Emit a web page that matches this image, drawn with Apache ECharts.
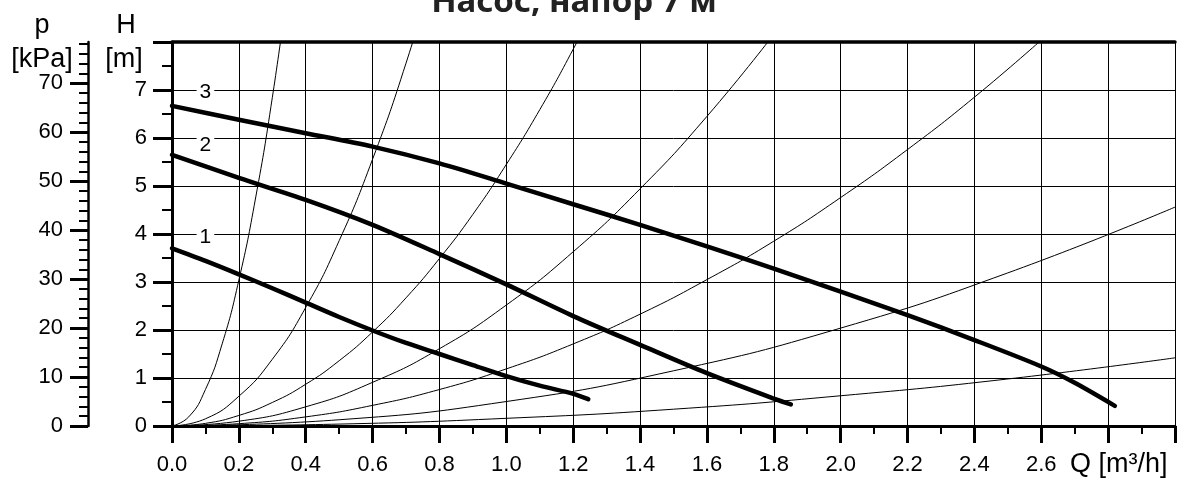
<!DOCTYPE html>
<html>
<head>
<meta charset="utf-8">
<title>Насос, напор 7 м</title>
<script src="https://cdn.jsdelivr.net/npm/echarts@6/dist/echarts.min.js"></script>
<style>
  html, body { margin: 0; padding: 0; background: #fff; }
  #chart { width: 1178px; height: 482px; }
</style>
</head>
<body>
<div id="chart"></div>
<script>
// pump curves, Q [m³/h] -> H [m]
const pump1Q = [0, 0.1, 0.2, 0.3, 0.4, 0.5, 0.6, 0.7, 0.8, 0.9, 1.0, 1.1, 1.2, 1.245];
const pump1H = [3.70, 3.44, 3.16, 2.87, 2.57, 2.27, 1.99, 1.73, 1.50, 1.27, 1.04, 0.84, 0.67, 0.56];
const pump2Q = [0, 0.2, 0.4, 0.6, 0.8, 1.0, 1.2, 1.4, 1.6, 1.8, 1.851];
const pump2H = [5.65, 5.17, 4.71, 4.19, 3.58, 2.95, 2.29, 1.69, 1.10, 0.57, 0.45];
const pump3Q = [0, 0.2, 0.4, 0.6, 0.8, 1.0, 1.2, 1.4, 1.6, 1.8, 2.0, 2.2, 2.4, 2.6, 2.7, 2.82];
const pump3H = [6.67, 6.38, 6.10, 5.82, 5.47, 5.05, 4.62, 4.19, 3.74, 3.28, 2.80, 2.31, 1.79, 1.24, 0.90, 0.42];

// system curves (thin lines), run past the top edge and get clipped there
const sysAQ = [0, 0.05, 0.1, 0.15, 0.2, 0.25, 0.3, 0.35];
const sysAH = [0, 0.19, 0.76, 1.71, 3.04, 4.75, 6.84, 9.31];
const sysBQ = [0, 0.1, 0.2, 0.3, 0.4, 0.5, 0.6, 0.7, 0.8];
const sysBH = [0, 0.15, 0.62, 1.39, 2.47, 3.86, 5.56, 7.56, 9.87];
const sysCQ = [0, 0.1, 0.2, 0.3, 0.4, 0.5, 0.6, 0.7, 0.8, 0.9, 1.0, 1.1, 1.2, 1.3];
const sysCH = [0, 0.055, 0.22, 0.49, 0.87, 1.36, 1.96, 2.67, 3.49, 4.41, 5.45, 6.59, 7.85, 9.21];
const sysDQ = [0, 0.2, 0.4, 0.6, 0.8, 1.0, 1.2, 1.4, 1.6, 1.8];
const sysDH = [0, 0.1, 0.4, 0.91, 1.61, 2.52, 3.63, 4.94, 6.45, 8.16];
const sysEQ = [0, 0.2, 0.4, 0.6, 0.8, 1.0, 1.2, 1.4, 1.6, 1.8, 2.0, 2.2, 2.4, 2.6];
const sysEH = [0, 0.048, 0.19, 0.43, 0.76, 1.19, 1.71, 2.33, 3.05, 3.85, 4.76, 5.76, 6.85, 8.04];
const sysFQ = [0, 0.5, 1.0, 1.5, 2.0, 2.5, 3.0];
const sysFH = [0, 0.13, 0.51, 1.15, 2.04, 3.19, 4.56];
const sysGQ = [0, 0.5, 1.0, 1.5, 2.0, 2.5, 3.0];
const sysGH = [0, 0.04, 0.16, 0.35, 0.63, 0.98, 1.42];

// kPa scale ticks
const kpaMajor = [0, 10, 20, 30, 40, 50, 60, 70];
const kpaMinor = [2, 4, 6, 8, 12, 14, 16, 18, 22, 24, 26, 28, 32, 34, 36, 38,
  42, 44, 46, 48, 52, 54, 56, 58, 62, 64, 66, 68, 72, 74, 76, 78];

const curveNames = ['1', '2', '3'];

const FONT = '"Liberation Sans", Arial, sans-serif';

function zip(qs, hs) {
  return qs.map((q, i) => [q, hs[i]]);
}

const chart = echarts.init(document.getElementById('chart'));

const thin = (qs, hs) => ({
  type: 'line',
  data: zip(qs, hs),
  smooth: true,
  clip: true,
  symbol: 'none',
  silent: true,
  lineStyle: { color: '#000', width: 1 },
  z: 3
});

const thick = (qs, hs, name, at) => ({
  type: 'line',
  name: name,
  data: zip(qs, hs),
  smooth: 0.3,
  symbol: 'none',
  silent: true,
  lineStyle: { color: '#000', width: 4.5, cap: 'round' },
  z: 5,
  markPoint: {
    symbol: 'rect',
    symbolSize: 0,
    silent: true,
    label: {
      show: true,
      formatter: name,
      color: '#000',
      fontSize: 21,
      fontFamily: FONT,
      backgroundColor: '#fff',
      padding: [0, 3],
      position: 'inside'
    },
    data: [{ coord: at }]
  }
});

const option = {
  animation: false,
  backgroundColor: '#fff',
  grid: { left: 172, right: 1, top: 42, bottom: 56 },
  xAxis: [
    {
      type: 'value',
      min: 0,
      max: 3,
      interval: 0.2,
      position: 'bottom',
      axisLine: { show: true, onZero: false, lineStyle: { color: '#000', width: 3 } },
      axisTick: { show: true, length: 17, lineStyle: { color: '#000', width: 3 } },
      minorTick: { show: true, splitNumber: 2, length: 8, lineStyle: { color: '#000', width: 2 } },
      splitLine: { show: true, lineStyle: { color: '#000', width: 1 } },
      axisLabel: {
        color: '#000',
        fontSize: 22,
        fontFamily: FONT,
        margin: 28,
        formatter: v => (v > 2.65 ? '' : v.toFixed(1))
      }
    },
    {
      type: 'value',
      min: 0,
      max: 3,
      position: 'top',
      axisLine: { show: true, onZero: false, lineStyle: { color: '#000', width: 3.5 } },
      axisTick: { show: false },
      axisLabel: { show: false },
      splitLine: { show: false }
    }
  ],
  yAxis: [
    {
      type: 'value',
      min: 0,
      max: 8,
      interval: 1,
      position: 'left',
      axisLine: { show: true, onZero: false, lineStyle: { color: '#000', width: 3 } },
      axisTick: { show: true, length: 19, lineStyle: { color: '#000', width: 3 } },
      minorTick: { show: true, splitNumber: 2, length: 10, lineStyle: { color: '#000', width: 2 } },
      splitLine: { show: true, lineStyle: { color: '#000', width: 1 } },
      axisLabel: {
        color: '#000',
        fontSize: 22,
        fontFamily: FONT,
        margin: 25,
        formatter: v => (v > 7.5 ? '' : String(v))
      }
    },
    {
      type: 'value',
      min: 0,
      max: 78.4,
      position: 'left',
      offset: 84,
      axisLine: { show: true, onZero: false, lineStyle: { color: '#000', width: 2.5 } },
      axisTick: { show: true, length: 18, customValues: kpaMajor, lineStyle: { color: '#000', width: 3 } },
      axisLabel: {
        customValues: kpaMajor,
        color: '#000',
        fontSize: 22,
        fontFamily: FONT,
        margin: 25
      },
      splitLine: { show: false }
    },
    {
      type: 'value',
      min: 0,
      max: 78.4,
      position: 'left',
      offset: 84,
      axisLine: { show: false, onZero: false },
      axisTick: { show: true, length: 9, customValues: kpaMinor, lineStyle: { color: '#000', width: 2 } },
      axisLabel: { show: false },
      splitLine: { show: false }
    }
  ],
  graphic: [
    {
      type: 'text',
      style: {
        x: 574, y: 3, text: 'Насос, напор 7 м',
        font: 'bold 33px "Noto Sans", sans-serif',
        fill: '#222', align: 'center', verticalAlign: 'middle'
      }
    },
    { type: 'text', style: { x: 42, y: 26, text: 'p', font: '27px ' + FONT, fill: '#000', align: 'center', verticalAlign: 'middle' } },
    { type: 'text', style: { x: 42, y: 60, text: '[kPa]', font: '27px ' + FONT, fill: '#000', align: 'center', verticalAlign: 'middle' } },
    { type: 'text', style: { x: 126, y: 26, text: 'H', font: '27px ' + FONT, fill: '#000', align: 'center', verticalAlign: 'middle' } },
    { type: 'text', style: { x: 124, y: 60, text: '[m]', font: '27px ' + FONT, fill: '#000', align: 'center', verticalAlign: 'middle' } },
    { type: 'text', style: { x: 1070, y: 465, text: 'Q [m³/h]', font: '27px ' + FONT, fill: '#000', align: 'left', verticalAlign: 'middle' } }
  ],
  series: [
    thin(sysAQ, sysAH),
    thin(sysBQ, sysBH),
    thin(sysCQ, sysCH),
    thin(sysDQ, sysDH),
    thin(sysEQ, sysEH),
    thin(sysFQ, sysFH),
    thin(sysGQ, sysGH),
    thick(pump1Q, pump1H, curveNames[0], [0.1, 3.94]),
    thick(pump2Q, pump2H, curveNames[1], [0.1, 5.85]),
    thick(pump3Q, pump3H, curveNames[2], [0.1, 6.96])
  ]
};

chart.setOption(option);
</script>
</body>
</html>
